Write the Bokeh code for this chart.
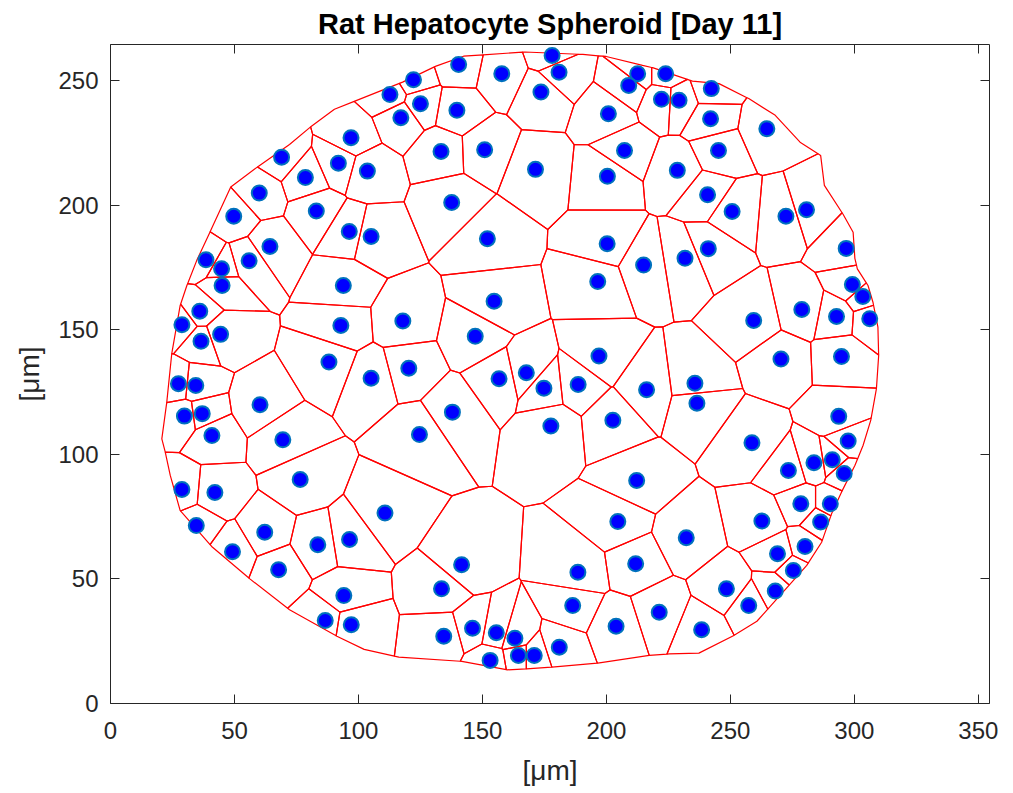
import numpy as np
from bokeh.plotting import figure
from bokeh.models import LinearAxis, FixedTicker, Range1d
from bokeh.embed import file_html
from bokeh.resources import INLINE

# Nucleus centres of the spheroid cells (µm)
cell_x = [178.1, 180.9, 157.8, 140.4, 122.2, 112.7, 125.0, 117.1, 139.7, 173.6,
          212.6, 223.9, 209.0, 222.2, 229.3, 242.3, 200.8, 242.0, 264.7, 207.3,
          245.2, 133.3, 150.9, 97.0, 91.9, 103.6, 171.4, 200.4, 228.6, 69.0,
          78.6, 60.0, 49.7, 83.0, 137.6, 240.8, 250.7, 272.4, 280.7, 96.3,
          105.1, 152.0, 200.3, 241.1, 231.7, 64.3, 55.9, 38.5, 44.8, 45.0,
          93.9, 196.5, 215.0, 296.7, 299.2, 303.4, 306.2, 154.7, 259.4, 278.8,
          292.8, 28.8, 36.0, 44.4, 92.9, 117.9, 147.1, 36.5, 88.1, 105.1,
          120.3, 156.7, 167.7, 174.8, 188.6, 197.0, 216.2, 235.7, 236.5, 270.4,
          294.8, 27.4, 34.4, 37.0, 29.8, 60.3, 40.9, 69.5, 137.9, 124.6,
          177.6, 202.6, 258.7, 293.7, 297.5, 291.1, 283.7, 273.4, 295.9, 28.8,
          42.1, 76.5, 110.7, 34.6, 62.2, 83.6, 96.4, 49.2, 67.8, 94.1,
          86.6, 97.1, 212.2, 204.6, 211.8, 188.5, 141.6, 133.5, 186.4, 203.9,
          134.4, 146.0, 155.6, 163.1, 181.0, 153.1, 164.5, 170.9, 278.4, 290.3,
          286.4, 262.7, 232.2, 269.0, 280.1, 275.4, 268.1, 248.4, 257.4, 221.3,
          238.4]
cell_y = [260.0, 253.3, 252.7, 256.4, 250.3, 244.3, 240.6, 235.0, 238.0, 245.3,
          252.7, 252.7, 248.0, 242.4, 242.0, 246.7, 236.6, 234.6, 230.6, 221.9,
          221.9, 221.5, 222.2, 227.0, 216.8, 213.6, 214.3, 211.5, 213.9, 219.2,
          211.0, 204.8, 195.5, 197.6, 201.0, 204.1, 197.4, 195.5, 198.1, 189.4,
          187.4, 186.5, 184.5, 182.5, 178.6, 183.4, 177.6, 178.0, 174.4, 167.7,
          167.7, 169.3, 175.9, 182.6, 168.1, 163.3, 154.4, 161.4, 153.7, 158.1,
          155.3, 152.0, 157.4, 148.1, 151.7, 153.5, 147.3, 145.3, 137.0, 130.5,
          134.5, 130.3, 132.7, 126.5, 128.0, 139.4, 125.9, 128.5, 120.5, 138.2,
          139.2, 128.3, 127.6, 116.3, 115.3, 119.9, 107.5, 105.8, 116.9, 107.9,
          111.3, 113.6, 104.6, 115.2, 105.3, 97.8, 96.6, 93.5, 92.3, 85.9,
          84.7, 89.9, 76.4, 71.4, 68.7, 63.7, 65.8, 60.9, 53.7, 43.3,
          33.3, 31.6, 89.5, 73.0, 56.1, 52.7, 55.7, 46.0, 39.3, 31.0,
          27.0, 30.2, 28.4, 26.2, 22.6, 17.3, 19.3, 19.3, 80.1, 80.1,
          72.8, 73.2, 66.5, 60.1, 63.0, 53.4, 45.1, 46.0, 39.3, 36.6,
          29.6]

# Spheroid outline used to bound the tessellation (µm)
outline_x = [117.8, 131.0, 142.4, 167.1, 190.5, 199.9, 214.6, 218.6, 234.7, 245.4,
             257.4, 268.1, 278.1, 286.4, 287.9, 295.5, 299.5, 300.2, 301.2, 305.5,
             307.5, 309.5, 309.8, 308.9, 306.6, 303.5, 300.2, 294.8, 290.8, 286.8,
             280.8, 269.4, 260.7, 251.4, 237.3, 225.3, 217.3, 196.5, 177.8, 167.8,
             160.0, 141.7, 116.3, 102.3, 91.3, 72.2, 56.2, 40.8, 28.1, 24.1,
             22.1, 20.7, 22.7, 24.7, 28.1, 30.8, 34.8, 40.1, 48.5, 59.2,
             72.2, 80.9, 90.3, 98.3]
outline_y = [249.3, 255.6, 259.7, 261.4, 260.4, 259.6, 256.0, 255.1, 249.7, 248.7,
             242.7, 236.0, 225.2, 219.9, 207.9, 196.2, 189.1, 178.6, 174.4, 167.7,
             161.0, 151.0, 139.6, 126.3, 113.6, 103.5, 95.5, 84.8, 76.1, 64.7,
             55.4, 42.7, 33.0, 27.3, 20.2, 19.9, 19.3, 16.2, 14.6, 13.9,
             13.5, 16.9, 18.6, 21.7, 27.0, 37.6, 50.0, 63.0, 77.4, 91.5,
             100.8, 106.2, 120.9, 140.3, 159.7, 167.7, 177.8, 189.1, 207.2, 215.2,
             224.3, 231.5, 238.4, 241.6]

x_ticks = [0, 50, 100, 150, 200, 250, 300, 350]
y_ticks = [0, 50, 100, 150, 200, 250]


def clip_halfplane(poly, nx, ny, c):
    """Sutherland-Hodgman clip of a polygon to the half-plane nx*x + ny*y <= c."""
    out = []
    m = len(poly)
    for k in range(m):
        px, py = poly[k]
        qx, qy = poly[(k + 1) % m]
        dp = nx * px + ny * py - c
        dq = nx * qx + ny * qy - c
        if dp <= 0:
            out.append((px, py))
        if (dp <= 0) != (dq <= 0):
            t = dp / (dp - dq)
            out.append((px + t * (qx - px), py + t * (qy - py)))
    return out


# Voronoi cells of the nuclei, bounded by the outline
pts = np.column_stack([cell_x, cell_y])
bound = list(zip(outline_x, outline_y))
cells_xs, cells_ys = [], []
for i, (xi, yi) in enumerate(pts):
    poly = bound
    d2 = np.hypot(pts[:, 0] - xi, pts[:, 1] - yi)
    for j in np.argsort(d2):
        if j == i:
            continue
        xj, yj = pts[j]
        nx, ny = xj - xi, yj - yi
        c = (xj * xj + yj * yj - xi * xi - yi * yi) / 2.0
        poly = clip_halfplane(poly, nx, ny, c)
        if not poly:
            break
    if poly:
        cells_xs.append([v[0] for v in poly])
        cells_ys.append([v[1] for v in poly])

FONT = "Liberation Sans"
INK = "#262626"

p = figure(width=1013, height=793, output_backend="svg", toolbar_location=None,
           x_range=Range1d(0, 354.5), y_range=Range1d(0, 264.4),
           min_border_left=110, min_border_right=24, min_border_top=44,
           min_border_bottom=90, title="Rat Hepatocyte Spheroid [Day 11]")
p.grid.visible = False
p.outline_line_color = None
p.background_fill_color = "white"
p.border_fill_color = "white"

p.title.align = "center"
p.title.text_font = FONT
p.title.text_font_size = "29px"
p.title.text_font_style = "bold"
p.title.text_color = "black"
p.title.standoff = 10

p.patches(cells_xs, cells_ys, fill_color=None, line_color="#FF0000", line_width=1.2)
p.scatter(cell_x, cell_y, size=15, fill_color="#0000FF", line_color="#0072BD",
          line_width=2)


def style_axis(ax, ticks, show_labels):
    ax.ticker = FixedTicker(ticks=ticks)
    ax.major_tick_in = 9
    ax.major_tick_out = 0
    ax.minor_tick_line_color = None
    ax.axis_line_color = INK
    ax.major_tick_line_color = INK
    ax.axis_line_width = 1
    ax.major_tick_line_width = 1
    ax.major_label_text_font = FONT
    ax.axis_label_text_font = FONT
    ax.axis_label_text_color = INK
    ax.axis_label_text_font_style = "normal"
    if show_labels:
        ax.major_label_text_color = INK
        ax.major_label_text_font_size = "24px"
        ax.axis_label_text_font_size = "28px"
    else:
        # box side: inward ticks only, no tick labels
        ax.major_label_text_color = None
        ax.major_label_text_font_size = "1px"
        ax.major_label_standoff = 0


xax = p.xaxis[0]
yax = p.yaxis[0]
style_axis(xax, x_ticks, True)
style_axis(yax, y_ticks, True)
xax.axis_label = "[μm]"
yax.axis_label = "[μm]"
xax.major_label_standoff = 18
yax.major_label_standoff = 12
xax.axis_label_standoff = 13
yax.axis_label_standoff = 10

top_ax = LinearAxis()
right_ax = LinearAxis()
style_axis(top_ax, x_ticks, False)
style_axis(right_ax, y_ticks, False)
p.add_layout(top_ax, "above")
p.add_layout(right_ax, "right")

open("out.html", "w").write(file_html(p, INLINE))
